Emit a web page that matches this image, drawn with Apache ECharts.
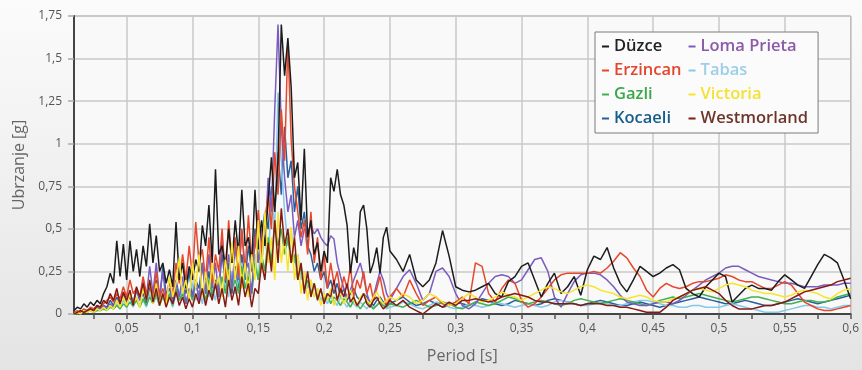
<!DOCTYPE html>
<html>
<head>
<meta charset="utf-8">
<script src="https://cdn.jsdelivr.net/npm/echarts@6/dist/echarts.min.js"></script>
<style>
  html, body { margin: 0; padding: 0; }
  body { background: linear-gradient(to bottom, #fbfbfb, #e4e4e4); }
  #chart { width: 862px; height: 370px; }
</style>
</head>
<body>
<div id="chart"></div>
<script>
// periods [s]: fine steps up to 0.25, coarser after
const periods = [
  0.01,0.0125,0.015,0.0175,0.02,0.0225,0.025,0.0275,0.03,0.0325,
  0.035,0.0375,0.04,0.0425,0.045,0.0475,0.05,0.0525,0.055,0.0575,
  0.06,0.0625,0.065,0.0675,0.07,0.0725,0.075,0.0775,0.08,0.0825,
  0.085,0.0875,0.09,0.0925,0.095,0.0975,0.1,0.1025,0.105,0.1075,
  0.11,0.1125,0.115,0.1175,0.12,0.1225,0.125,0.1275,0.13,0.1325,
  0.135,0.1375,0.14,0.1425,0.145,0.1475,0.15,0.1525,0.155,0.1575,
  0.16,0.1625,0.165,0.1675,0.17,0.1725,0.175,0.1775,0.18,0.1825,
  0.185,0.1875,0.19,0.1925,0.195,0.1975,0.2,0.2025,0.205,0.2075,
  0.21,0.2125,0.215,0.2175,0.22,0.2225,0.225,0.2275,0.23,0.2325,
  0.235,0.2375,0.24,0.2425,0.245,0.2475,0.25,
  0.255,0.26,0.265,0.27,0.275,0.28,0.285,0.29,0.295,0.3,
  0.305,0.31,0.315,0.32,0.325,0.33,0.335,0.34,0.345,0.35,
  0.355,0.36,0.365,0.37,0.375,0.38,0.385,0.39,0.395,0.4,
  0.405,0.41,0.415,0.42,0.425,0.43,0.435,0.44,0.445,0.45,
  0.455,0.46,0.465,0.47,0.475,0.48,0.485,0.49,0.495,0.5,
  0.505,0.51,0.515,0.52,0.525,0.53,0.535,0.54,0.545,0.55,
  0.555,0.56,0.565,0.57,0.575,0.58,0.585,0.59,0.595,0.6
];

const duzce = [
  0.02,0.04,0.03,0.06,0.04,0.07,0.05,0.08,0.06,0.12,
  0.16,0.24,0.18,0.43,0.22,0.41,0.2,0.43,0.25,0.38,
  0.22,0.4,0.28,0.53,0.3,0.46,0.25,0.3,0.18,0.26,
  0.16,0.54,0.2,0.3,0.15,0.28,0.2,0.32,0.25,0.52,
  0.4,0.64,0.3,0.85,0.35,0.4,0.28,0.5,0.3,0.55,
  0.35,0.73,0.4,0.45,0.3,0.73,0.38,0.55,0.4,0.67,
  0.92,0.6,0.9,1.7,1.4,1.62,1.33,0.8,0.89,0.55,
  0.97,0.45,0.55,0.35,0.42,0.25,0.37,0.3,0.8,0.72,
  0.85,0.7,0.64,0.52,0.24,0.39,0.3,0.6,0.64,0.5,
  0.24,0.3,0.39,0.24,0.45,0.51,0.37,
  0.32,0.25,0.35,0.2,0.16,0.2,0.3,0.49,0.34,0.16,
  0.14,0.13,0.14,0.16,0.18,0.12,0.1,0.19,0.22,0.28,
  0.3,0.2,0.1,0.18,0.24,0.12,0.16,0.22,0.11,0.26,
  0.34,0.32,0.39,0.27,0.18,0.13,0.2,0.28,0.25,0.22,
  0.24,0.27,0.29,0.26,0.15,0.12,0.1,0.16,0.2,0.24,
  0.22,0.07,0.11,0.15,0.17,0.15,0.15,0.14,0.19,0.23,
  0.2,0.17,0.15,0.22,0.29,0.35,0.33,0.3,0.2,0.09
];

const erzincan = [
  0.01,0.02,0.01,0.03,0.02,0.04,0.03,0.05,0.04,0.06,
  0.08,0.1,0.07,0.12,0.09,0.16,0.1,0.2,0.12,0.15,
  0.1,0.22,0.12,0.18,0.08,0.25,0.1,0.15,0.08,0.2,
  0.12,0.3,0.18,0.35,0.2,0.4,0.22,0.54,0.3,0.38,
  0.2,0.45,0.18,0.35,0.25,0.5,0.2,0.55,0.3,0.45,
  0.22,0.5,0.25,0.58,0.3,0.4,0.61,0.35,0.55,0.7,
  0.5,0.95,0.7,1.2,0.9,1.6,1.02,0.75,0.6,0.45,
  0.55,0.35,0.6,0.3,0.45,0.2,0.35,0.15,0.3,0.18,
  0.25,0.12,0.22,0.15,0.28,0.1,0.2,0.15,0.25,0.12,
  0.18,0.08,0.15,0.22,0.12,0.05,0.1,
  0.15,0.1,0.2,0.12,0.05,0.08,0.1,0.06,0.05,0.07,
  0.1,0.06,0.3,0.28,0.12,0.07,0.15,0.2,0.18,0.08,
  0.04,0.06,0.1,0.15,0.2,0.23,0.24,0.24,0.24,0.24,
  0.25,0.24,0.27,0.31,0.36,0.33,0.27,0.22,0.14,0.1,
  0.15,0.18,0.16,0.15,0.16,0.18,0.19,0.19,0.2,0.21,
  0.23,0.22,0.2,0.19,0.19,0.17,0.15,0.15,0.17,0.19,
  0.17,0.12,0.07,0.05,0.03,0.02,0.02,0.03,0.04,0.05
];

const gazli = [
  0.0,0.0,0.01,0.01,0.01,0.02,0.01,0.02,0.02,0.03,
  0.02,0.04,0.03,0.05,0.03,0.06,0.04,0.07,0.05,0.08,
  0.04,0.09,0.05,0.1,0.06,0.12,0.05,0.1,0.06,0.12,
  0.05,0.15,0.08,0.12,0.06,0.14,0.08,0.18,0.1,0.15,
  0.08,0.2,0.12,0.18,0.1,0.22,0.12,0.25,0.15,0.2,
  0.12,0.28,0.15,0.22,0.12,0.3,0.2,0.35,0.25,0.45,
  0.3,0.55,0.4,0.5,0.35,0.45,0.3,0.35,0.2,0.28,
  0.15,0.2,0.12,0.18,0.1,0.14,0.08,0.12,0.06,0.1,
  0.08,0.05,0.09,0.07,0.04,0.08,0.06,0.03,0.06,0.08,
  0.05,0.03,0.05,0.07,0.05,0.04,0.06,
  0.05,0.04,0.06,0.08,0.06,0.04,0.05,0.07,0.06,0.04,
  0.03,0.05,0.07,0.06,0.05,0.06,0.08,0.1,0.09,0.07,
  0.06,0.07,0.08,0.07,0.06,0.05,0.06,0.08,0.09,0.08,
  0.07,0.06,0.07,0.08,0.09,0.08,0.07,0.06,0.05,0.06,
  0.08,0.09,0.1,0.09,0.1,0.11,0.12,0.11,0.1,0.09,
  0.08,0.07,0.08,0.09,0.1,0.1,0.09,0.08,0.07,0.06,
  0.06,0.07,0.08,0.08,0.07,0.07,0.08,0.1,0.11,0.12
];

const kocaeli = [
  0.0,0.01,0.01,0.02,0.02,0.03,0.02,0.04,0.03,0.05,
  0.04,0.08,0.05,0.1,0.06,0.12,0.07,0.1,0.05,0.14,
  0.08,0.12,0.06,0.16,0.1,0.2,0.08,0.28,0.12,0.15,
  0.08,0.2,0.1,0.18,0.12,0.25,0.1,0.2,0.15,0.3,
  0.12,0.25,0.1,0.2,0.15,0.35,0.18,0.3,0.12,0.28,
  0.15,0.35,0.2,0.4,0.25,0.5,0.3,0.45,0.6,0.5,
  0.75,0.6,0.95,0.7,1.1,0.8,0.9,0.6,0.75,0.5,
  0.6,0.4,0.35,0.25,0.3,0.2,0.25,0.15,0.2,0.12,
  0.18,0.1,0.15,0.08,0.12,0.15,0.1,0.08,0.12,0.1,
  0.07,0.05,0.08,0.1,0.07,0.05,0.06,
  0.08,0.1,0.07,0.05,0.06,0.08,0.06,0.04,0.05,0.07,
  0.06,0.05,0.07,0.09,0.08,0.06,0.05,0.06,0.08,0.07,
  0.06,0.05,0.06,0.08,0.09,0.08,0.07,0.06,0.05,0.06,
  0.07,0.08,0.07,0.06,0.05,0.05,0.06,0.07,0.06,0.05,
  0.04,0.05,0.06,0.07,0.08,0.09,0.1,0.09,0.08,0.07,
  0.06,0.06,0.07,0.08,0.07,0.06,0.05,0.05,0.06,0.07,
  0.08,0.09,0.08,0.07,0.06,0.07,0.08,0.09,0.1,0.11
];

const lomaPrieta = [
  0.0,0.01,0.02,0.01,0.02,0.03,0.02,0.04,0.03,0.05,
  0.03,0.06,0.04,0.08,0.05,0.1,0.06,0.12,0.07,0.15,
  0.08,0.2,0.1,0.28,0.12,0.3,0.1,0.25,0.08,0.2,
  0.06,0.18,0.1,0.22,0.06,0.15,0.1,0.2,0.08,0.3,
  0.12,0.35,0.15,0.3,0.1,0.45,0.2,0.35,0.15,0.4,
  0.2,0.49,0.25,0.3,0.12,0.45,0.3,0.5,0.4,0.8,
  0.6,1.2,1.7,1.1,0.8,0.6,0.7,0.45,0.55,0.4,
  0.5,0.48,0.52,0.47,0.5,0.45,0.42,0.4,0.46,0.44,
  0.3,0.22,0.15,0.1,0.14,0.2,0.25,0.3,0.22,0.12,
  0.06,0.1,0.18,0.25,0.2,0.12,0.08,
  0.15,0.22,0.26,0.18,0.08,0.12,0.25,0.27,0.22,0.12,
  0.05,0.03,0.06,0.12,0.18,0.22,0.23,0.22,0.18,0.2,
  0.26,0.32,0.33,0.25,0.1,0.04,0.12,0.19,0.23,0.24,
  0.24,0.23,0.2,0.16,0.11,0.07,0.06,0.05,0.05,0.06,
  0.07,0.07,0.06,0.08,0.11,0.14,0.17,0.2,0.22,0.24,
  0.27,0.28,0.28,0.26,0.24,0.22,0.21,0.2,0.19,0.18,
  0.18,0.17,0.16,0.16,0.16,0.17,0.17,0.17,0.18,0.18
];

const tabas = [
  0.0,0.01,0.01,0.01,0.02,0.02,0.01,0.03,0.02,0.03,
  0.02,0.05,0.03,0.06,0.04,0.08,0.05,0.07,0.04,0.1,
  0.05,0.08,0.04,0.12,0.06,0.1,0.05,0.14,0.06,0.1,
  0.04,0.12,0.08,0.15,0.06,0.12,0.18,0.08,0.14,0.06,
  0.2,0.1,0.15,0.08,0.22,0.12,0.18,0.1,0.25,0.12,
  0.2,0.3,0.15,0.25,0.1,0.35,0.2,0.3,0.45,0.3,
  0.7,0.5,1.3,0.9,0.6,0.4,0.5,0.3,0.35,0.2,
  0.25,0.15,0.2,0.1,0.15,0.08,0.12,0.06,0.1,0.08,
  0.05,0.1,0.07,0.04,0.08,0.06,0.04,0.07,0.05,0.03,
  0.06,0.04,0.05,0.07,0.05,0.03,0.04,
  0.05,0.07,0.06,0.04,0.03,0.05,0.07,0.06,0.04,0.03,
  0.04,0.06,0.05,0.04,0.05,0.07,0.06,0.05,0.04,0.05,
  0.06,0.05,0.04,0.05,0.07,0.08,0.07,0.06,0.05,0.05,
  0.06,0.07,0.06,0.05,0.05,0.06,0.07,0.08,0.08,0.07,
  0.06,0.05,0.05,0.04,0.04,0.05,0.05,0.04,0.04,0.04,
  0.05,0.06,0.05,0.04,0.03,0.02,0.01,0.01,0.01,0.02,
  0.03,0.04,0.05,0.05,0.04,0.04,0.03,0.04,0.05,0.05
];

const victoria = [
  0.0,0.01,0.0,0.02,0.01,0.02,0.01,0.03,0.02,0.04,
  0.02,0.05,0.03,0.08,0.04,0.1,0.05,0.12,0.06,0.1,
  0.04,0.15,0.08,0.2,0.06,0.18,0.05,0.12,0.04,0.22,
  0.1,0.18,0.33,0.12,0.2,0.08,0.3,0.15,0.35,0.1,
  0.25,0.12,0.3,0.15,0.22,0.1,0.32,0.18,0.42,0.2,
  0.4,0.15,0.3,0.1,0.35,0.2,0.55,0.25,0.6,0.3,
  0.45,0.2,0.6,0.3,0.45,0.25,0.51,0.2,0.35,0.12,
  0.25,0.08,0.2,0.1,0.15,0.05,0.12,0.08,0.15,0.05,
  0.1,0.12,0.06,0.1,0.14,0.08,0.05,0.1,0.12,0.08,
  0.06,0.1,0.13,0.09,0.06,0.08,0.1,
  0.08,0.12,0.1,0.06,0.08,0.12,0.1,0.07,0.05,0.06,
  0.09,0.12,0.1,0.07,0.08,0.1,0.13,0.11,0.1,0.08,
  0.1,0.12,0.14,0.16,0.15,0.13,0.12,0.14,0.16,0.17,
  0.16,0.14,0.13,0.12,0.1,0.09,0.1,0.11,0.1,0.08,
  0.07,0.07,0.09,0.1,0.12,0.14,0.15,0.14,0.13,0.15,
  0.17,0.18,0.17,0.16,0.14,0.13,0.12,0.12,0.11,0.1,
  0.11,0.13,0.14,0.13,0.12,0.1,0.09,0.12,0.14,0.15
];

const westmorland = [
  0.0,0.01,0.02,0.01,0.02,0.03,0.02,0.05,0.04,0.08,
  0.06,0.12,0.08,0.15,0.06,0.13,0.08,0.14,0.05,0.16,
  0.1,0.18,0.08,0.2,0.07,0.15,0.05,0.12,0.04,0.1,
  0.06,0.13,0.05,0.1,0.03,0.09,0.04,0.12,0.06,0.15,
  0.05,0.14,0.08,0.18,0.06,0.15,0.04,0.2,0.08,0.16,
  0.05,0.22,0.1,0.18,0.04,0.15,0.12,0.3,0.2,0.42,
  0.25,0.55,0.3,0.62,0.4,0.5,0.3,0.45,0.2,0.3,
  0.12,0.25,0.1,0.18,0.08,0.15,0.06,0.12,0.1,0.2,
  0.08,0.15,0.1,0.18,0.07,0.1,0.05,0.08,0.12,0.06,
  0.04,0.08,0.1,0.06,0.03,0.05,0.08,
  0.05,0.08,0.04,0.02,0.0,0.03,0.06,0.04,0.07,0.05,
  0.08,0.08,0.09,0.08,0.07,0.08,0.1,0.11,0.12,0.11,
  0.1,0.08,0.07,0.07,0.06,0.06,0.06,0.06,0.05,0.06,
  0.06,0.06,0.05,0.05,0.04,0.04,0.03,0.02,0.01,0.01,
  0.01,0.04,0.08,0.1,0.12,0.14,0.15,0.16,0.14,0.12,
  0.08,0.05,0.03,0.03,0.03,0.04,0.05,0.05,0.06,0.07,
  0.09,0.11,0.13,0.14,0.15,0.16,0.17,0.19,0.2,0.21
];

const xTickValues = [0.025,0.05,0.075,0.1,0.125,0.15,0.175,0.2,0.225,0.25,0.275,0.3,
  0.325,0.35,0.375,0.4,0.425,0.45,0.475,0.5,0.525,0.55,0.575,0.6];
const xLabelValues = [0.05,0.1,0.15,0.2,0.25,0.3,0.35,0.4,0.45,0.5,0.55,0.6];

// drawing order (back to front) differs from legend order
const records = [
  { name: "Kocaeli", values: kocaeli, color: "#2b5f9c", text: "#175d8b" },
  { name: "Tabas", values: tabas, color: "#86c8ea", text: "#9bcfe9" },
  { name: "Gazli", values: gazli, color: "#3fb24c", text: "#3aa84a" },
  { name: "Loma Prieta", values: lomaPrieta, color: "#7a5cc0", text: "#8b5aa9" },
  { name: "Erzincan", values: erzincan, color: "#e8472a", text: "#e3462b" },
  { name: "Düzce", values: duzce, color: "#1c1c1c", text: "#222222" },
  { name: "Victoria", values: victoria, color: "#f6e52c", text: "#f3e234" },
  { name: "Westmorland", values: westmorland, color: "#851a12", text: "#6e3529" },
];
const legendOrder = ["Düzce", "Erzincan", "Gazli", "Kocaeli", "Loma Prieta", "Tabas", "Victoria", "Westmorland"];

const comma = (v) => String(v).replace(".", ",");
const font = "Open Sans";

const chart = echarts.init(document.getElementById("chart"));
chart.setOption({
  animation: false,
  textStyle: { fontFamily: font },
  grid: {
    left: 74, right: 9, top: 16, bottom: 56,
    show: true, backgroundColor: "#f9f9f9", borderColor: "#9a9a9a", borderWidth: 1,
  },
  legend: {
    orient: "vertical",
    left: 595, top: 32,
    height: 94,
    padding: [6, 10, 6, 7],
    itemGap: 7,
    itemWidth: 7, itemHeight: 2,
    icon: "rect",
    selectedMode: false,
    backgroundColor: "#fbfbfb",
    borderColor: "#7a7a7a", borderWidth: 1,
    textStyle: { fontSize: 16.5, fontFamily: font, fontWeight: 600 },
    data: legendOrder.map((n) => {
      const r = records.find((x) => x.name === n);
      return { name: n, textStyle: { color: r.text } };
    }),
  },
  xAxis: [
    {
      type: "value", min: 0.01, max: 0.6,
      name: "Period [s]", nameLocation: "middle", nameGap: 34,
      nameTextStyle: { fontSize: 16, color: "#666" },
      axisLine: { lineStyle: { color: "#454545", width: 2 } },
      axisTick: { customValues: xTickValues, length: 5, lineStyle: { color: "#555", width: 1.5 } },
      axisLabel: { customValues: xLabelValues, formatter: comma, color: "#555", fontSize: 12, margin: 9 },
      splitLine: { show: false },
    },
    {
      type: "value", min: 0.01, max: 0.6, position: "bottom",
      axisLine: { show: false },
      axisTick: { show: false, customValues: xLabelValues },
      axisLabel: { show: false },
      splitLine: { show: true, lineStyle: { color: "#c9c9c9", width: 1.5 } },
    },
  ],
  yAxis: {
    type: "value", min: 0, max: 1.75, interval: 0.25,
    name: "Ubrzanje [g]", nameLocation: "middle", nameGap: 41,
    nameTextStyle: { fontSize: 16, color: "#666" },
    axisLine: { show: true, lineStyle: { color: "#454545", width: 2 } },
    axisTick: { show: true, length: 6, lineStyle: { color: "#aaa", width: 1.5 } },
    axisLabel: { formatter: comma, color: "#555", fontSize: 12, margin: 12 },
    splitLine: { lineStyle: { color: "#c9c9c9", width: 1.5 } },
  },
  series: records.map((r) => ({
    name: r.name,
    type: "line",
    xAxisIndex: 0,
    symbol: "none",
    color: r.color,
    lineStyle: { width: 1.5, color: r.color },
    data: periods.map((p, i) => [p, r.values[i]]),
  })),
});
</script>
</body>
</html>
